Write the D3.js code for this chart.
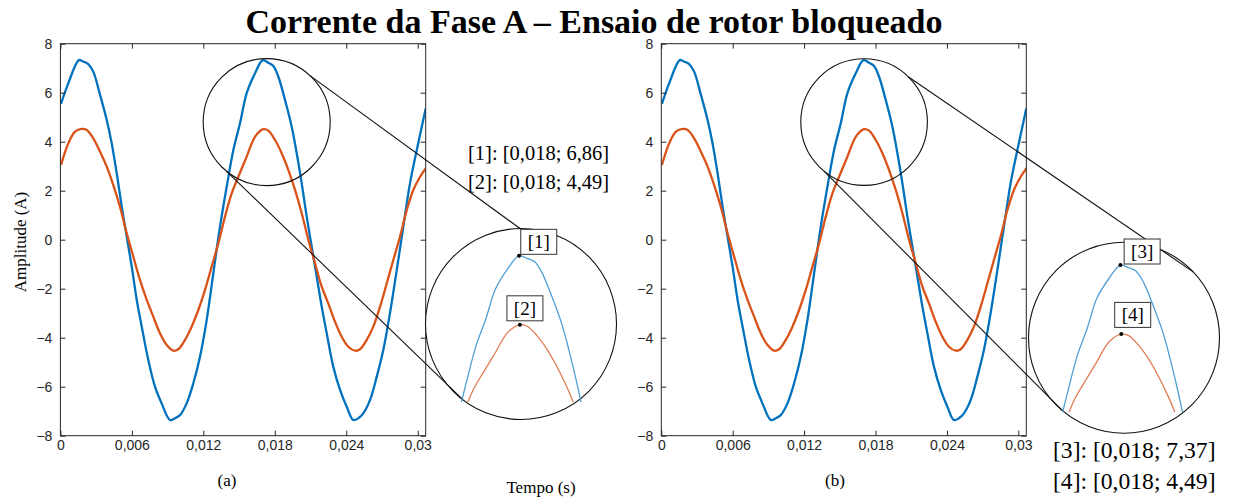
<!DOCTYPE html>
<html>
<head>
<meta charset="utf-8">
<script src="https://cdn.jsdelivr.net/npm/d3@7"></script>
<style>
  body{margin:0;background:#fff;}
  svg{display:block;}
</style>
</head>
<body>
<div id="grafico"></div>
<script>
// dados (corrente da fase A, rotor bloqueado)
const tempoAzul = [0.00005,0.00066,0.00156,0.00192,0.00234,0.00276,0.00333,0.00389,0.00431,0.00473,0.00515,0.00557,0.00599,0.00641,0.00683,0.00738,0.00794,0.0085,0.0092,0.00962,0.01004,0.0106,0.01116,0.01172,0.01228,0.01284,0.0134,0.01396,0.01452,0.01508,0.01564,0.01634,0.01699,0.01746,0.01788,0.0183,0.01886,0.01942,0.01984,0.02026,0.02068,0.0211,0.02152,0.02194,0.02236,0.02291,0.02348,0.02404,0.02459,0.02501,0.02543,0.026,0.02656,0.02711,0.02767,0.02824,0.02879,0.02935,0.02992,0.03034,0.03067];
const correnteAzul = [5.54,6.38,7.33,7.27,7.17,6.86,5.91,4.89,3.93,2.71,1.35,0.12,-1.10,-2.46,-3.55,-4.91,-6.0,-6.68,-7.36,-7.29,-7.16,-6.68,-5.86,-4.78,-3.28,-1.37,0.53,2.16,3.66,4.75,5.98,6.79,7.33,7.22,7.09,6.65,5.70,4.61,3.53,2.30,0.94,-0.29,-1.51,-2.73,-3.82,-5.18,-6.13,-6.82,-7.36,-7.29,-7.09,-6.54,-5.59,-4.50,-3.0,-1.24,0.53,2.30,3.66,4.61,5.36];

const tempoLaranja = [0.00005,0.00066,0.00123,0.00179,0.00221,0.00276,0.00333,0.00389,0.00444,0.005,0.00557,0.00612,0.00668,0.00725,0.0078,0.00836,0.00893,0.00948,0.0099,0.01046,0.01102,0.01158,0.01214,0.0127,0.01326,0.01382,0.01438,0.01494,0.01564,0.01634,0.01704,0.01746,0.01802,0.01858,0.01914,0.0197,0.02026,0.02082,0.02138,0.02194,0.02249,0.02306,0.02362,0.02417,0.02474,0.02516,0.02572,0.02627,0.02684,0.0274,0.02795,0.02851,0.02908,0.02963,0.0302,0.03067];
const correnteLaranja = [3.05,3.93,4.41,4.52,4.48,4.14,3.59,2.98,2.23,1.35,0.26,-0.69,-1.64,-2.46,-3.14,-3.82,-4.30,-4.53,-4.47,-4.09,-3.55,-2.87,-2.05,-1.10,-0.15,0.94,1.89,2.57,3.39,4.20,4.51,4.45,4.07,3.53,2.84,2.03,1.08,-0.01,-0.96,-1.92,-2.60,-3.35,-3.96,-4.37,-4.53,-4.47,-4.09,-3.55,-2.73,-1.78,-0.83,0.12,1.21,2.03,2.57,2.91];

const ticksX = [0,0.006,0.012,0.018,0.024,0.03];
const ticksY = [-8,-6,-4,-2,0,2,4,6,8];
const dominioX = [0,0.03067];
const dominioY = [-8,8];

// marcadores de pico e textos das anotações
const rotulosA = ['[1]','[2]'];
const rotulosB = ['[3]','[4]'];
const picoAzul = [0.01699,7.33];
const picoLaranja = [0.01704,4.51];
const anotA = ['[1]: [0,018; 6,86]','[2]: [0,018; 4,49]'];
const anotB = ['[3]: [0,018; 7,37]','[4]: [0,018; 4,49]'];

const W=1234, H=497;
const corAzul='#0072BD', corLaranja='#D95319';
const corAzulZoom='#4f9fd4', corLaranjaZoom='#e07d55';
const serif='"Liberation Serif","Times New Roman",serif';
const sans='"Liberation Sans",Arial,Helvetica,sans-serif';

const svg=d3.select('#grafico').append('svg').attr('width',W).attr('height',H);

svg.append('text').attr('x',594).attr('y',33).attr('text-anchor','middle')
   .attr('font-family',serif).attr('font-weight','bold').attr('font-size',34)
   .text('Corrente da Fase A – Ensaio de rotor bloqueado');

svg.append('text').attr('transform','translate(26,242) rotate(-90)').attr('text-anchor','middle')
   .attr('font-family',serif).attr('font-size',17).text('Amplitude (A)');
svg.append('text').attr('x',541).attr('y',493).attr('text-anchor','middle')
   .attr('font-family',serif).attr('font-size',17).text('Tempo (s)');

const paineis=[
  {x0:60.4,x1:425.7,rotulo:'(a)',rx:227,marc:rotulosA,
   zoom:{c:[0.01732,4.80],r:63.5,cx:521,cy:324,R:95.5,fundo:402,dy:195.6,t0:0.01712,px:521.3,
         ang:[[-47,-90.6],[128.8,127.3]],
         caixas:[[1.7,-26.4],[-13,-29]]}},
  {x0:661.3,x1:1026.3,rotulo:'(b)',rx:835,marc:rotulosB,
   zoom:{c:[0.01704,4.80],r:63.3,cx:1124,cy:337.7,R:95.5,fundo:412,dy:204.9,t0:0.01712,px:1122.7,
         ang:[[-45.8,-43.6],[129.3,130]],
         caixas:[[3.7,-26],[-6.6,-31.7]]}}
];
const y0=43.7, y1=435.7;
const fmt=d=>String(d).replace('.',',');

paineis.forEach((p,i)=>{
  const x=d3.scaleLinear().domain(dominioX).range([p.x0,p.x1]);
  const y=d3.scaleLinear().domain(dominioY).range([y1,y0]);
  const g=svg.append('g');

  const cid='clip'+i;
  svg.append('clipPath').attr('id',cid).append('rect')
     .attr('x',p.x0).attr('y',y0).attr('width',p.x1-p.x0).attr('height',y1-y0);

  const linha=d3.line().x(d=>x(d[0])).y(d=>y(d[1])).curve(d3.curveCatmullRom.alpha(0.5));
  const sAzul=tempoAzul.map((t,k)=>[t,correnteAzul[k]]);
  const sLaranja=tempoLaranja.map((t,k)=>[t,correnteLaranja[k]]);

  const gl=g.append('g').attr('clip-path',`url(#${cid})`);
  gl.append('path').datum(sAzul).attr('d',linha).attr('fill','none')
    .attr('stroke',corAzul).attr('stroke-width',2.3);
  gl.append('path').datum(sLaranja).attr('d',linha).attr('fill','none')
    .attr('stroke',corLaranja).attr('stroke-width',2.3);

  // eixos estilo MATLAB, ticks para dentro nos quatro lados
  const eixo=(gen,tr)=>{
    const a=g.append('g').attr('transform',tr).call(gen);
    a.select('.domain').remove();
    a.selectAll('line').attr('stroke','#262626');
    a.selectAll('text').attr('font-family',sans).attr('font-size',14).attr('fill','#262626');
    return a;
  };
  eixo(d3.axisBottom(x).tickValues(ticksX).tickSize(-5).tickPadding(4).tickFormat(fmt),`translate(0,${y1})`);
  eixo(d3.axisTop(x).tickValues(ticksX).tickSize(-5).tickFormat(''),`translate(0,${y0})`);
  eixo(d3.axisLeft(y).tickValues(ticksY).tickSize(-5).tickPadding(8).tickFormat(d3.format('')),`translate(${p.x0},0)`);
  eixo(d3.axisRight(y).tickValues(ticksY).tickSize(-5).tickFormat(''),`translate(${p.x1},0)`);
  g.append('rect').attr('x',p.x0).attr('y',y0).attr('width',p.x1-p.x0).attr('height',y1-y0)
   .attr('fill','none').attr('stroke','#262626').attr('stroke-width',1);

  svg.append('text').attr('x',p.rx).attr('y',486).attr('text-anchor','middle')
     .attr('font-family',serif).attr('font-size',17).text(p.rotulo);

  // lupa: círculo pequeno, círculo ampliado e linhas de ligação
  const z=p.zoom;
  const sc=[x(z.c[0]),y(z.c[1])];
  svg.append('circle').attr('cx',sc[0]).attr('cy',sc[1]).attr('r',z.r)
     .attr('fill','none').attr('stroke','#111').attr('stroke-width',1.1);
  svg.append('circle').attr('cx',z.cx).attr('cy',z.cy).attr('r',z.R)
     .attr('fill','#fff').attr('stroke','#111').attr('stroke-width',1.1);
  const rad=a=>a*Math.PI/180;
  z.ang.forEach(a=>{
    svg.append('line')
       .attr('x1',sc[0]+z.r*Math.cos(rad(a[0]))).attr('y1',sc[1]+z.r*Math.sin(rad(a[0])))
       .attr('x2',z.cx+z.R*Math.cos(rad(a[1]))).attr('y2',z.cy+z.R*Math.sin(rad(a[1])))
       .attr('stroke','#111').attr('stroke-width',1.1);
  });

  const mag=1.46;
  const xz=d3.scaleLinear().domain([z.t0,z.t0+0.001])
             .range([z.px,z.px+(x(0.001)-x(0))*mag]);
  const yz=d3.scaleLinear().domain(dominioY).range([y1+z.dy,y0+z.dy]);
  const zid='zclip'+i;
  svg.append('clipPath').attr('id',zid).append('rect')
     .attr('x',z.cx-z.R-4).attr('y',z.cy-z.R).attr('width',2*z.R+8).attr('height',z.fundo-(z.cy-z.R));
  const linhaZ=d3.line().x(d=>xz(d[0])).y(d=>yz(d[1])).curve(d3.curveCatmullRom.alpha(0.5));
  const gz=svg.append('g').attr('clip-path',`url(#${zid})`);
  gz.append('path').datum(sAzul).attr('d',linhaZ).attr('fill','none')
    .attr('stroke',corAzulZoom).attr('stroke-width',1.3);
  gz.append('path').datum(sLaranja).attr('d',linhaZ).attr('fill','none')
    .attr('stroke',corLaranjaZoom).attr('stroke-width',1.3);

  [picoAzul,picoLaranja].forEach((pk,k)=>{
    const mx=xz(pk[0]), my=yz(pk[1]);
    const off=z.caixas[k];
    svg.append('rect').attr('x',mx+off[0]).attr('y',my+off[1]).attr('width',36).attr('height',25)
       .attr('fill','#fff').attr('stroke','#333').attr('stroke-width',1);
    svg.append('text').attr('x',mx+off[0]+18).attr('y',my+off[1]+19).attr('text-anchor','middle')
       .attr('font-family',serif).attr('font-size',19).text(p.marc[k]);
    svg.append('circle').attr('cx',mx).attr('cy',my).attr('r',2).attr('fill','#000');
  });
});

// textos das anotações
anotA.forEach((t,k)=>{
  svg.append('text').attr('x',468).attr('y',160+k*29)
     .attr('font-family',serif).attr('font-size',20.5).text(t);
});
anotB.forEach((t,k)=>{
  svg.append('text').attr('x',1053).attr('y',458+k*31)
     .attr('font-family',serif).attr('font-size',23.6).text(t);
});
</script>
</body>
</html>
